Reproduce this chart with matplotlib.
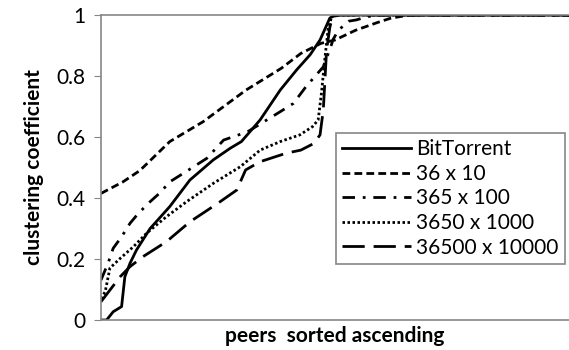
import matplotlib.pyplot as plt

# x = rank of peer (sorted ascending), scaled 0..1000
bt_x = [0, 12, 26, 44, 51, 62, 76, 105, 147, 190, 240, 276, 300, 340, 383, 418, 447, 468, 489, 500, 1000]
bt_y = [0, 0, 0.027, 0.044, 0.142, 0.186, 0.23, 0.3, 0.372, 0.459, 0.525, 0.563, 0.585, 0.656, 0.754, 0.82, 0.87, 0.918, 0.99, 1, 1]

s36_x = [0, 47, 83, 147, 218, 310, 385, 427, 470, 500, 544, 590, 620, 660, 1000]
s36_y = [0.415, 0.453, 0.49, 0.585, 0.65, 0.754, 0.825, 0.874, 0.907, 0.918, 0.95, 0.975, 0.99, 1, 1]

s365_x = [0, 16, 26, 44, 62, 80, 105, 126, 147, 176, 226, 262, 313, 383, 411, 438, 475, 491, 496, 507, 530, 546, 570, 600, 1000]
s365_y = [0.131, 0.19, 0.235, 0.273, 0.317, 0.35, 0.388, 0.417, 0.453, 0.481, 0.53, 0.59, 0.617, 0.683, 0.71, 0.765, 0.83, 0.896, 0.92, 0.95, 0.98, 0.984, 0.995, 1, 1]

s3650_x = [0, 9, 19, 41, 69, 97, 140, 183, 240, 298, 340, 383, 425, 452, 464, 471, 478, 485, 492, 500, 520, 1000]
s3650_y = [0.07, 0.093, 0.17, 0.202, 0.24, 0.284, 0.339, 0.388, 0.448, 0.503, 0.557, 0.585, 0.607, 0.634, 0.656, 0.743, 0.852, 0.95, 0.99, 1, 1, 1]

s36500_x = [0, 41, 62, 90, 140, 190, 250, 290, 309, 340, 396, 427, 455, 468, 475, 482, 489, 495, 510, 1000]
s36500_y = [0.06, 0.142, 0.175, 0.208, 0.257, 0.322, 0.383, 0.426, 0.492, 0.519, 0.547, 0.557, 0.579, 0.607, 0.689, 0.885, 0.96, 0.995, 1, 1]

labels = ["BitTorrent", "36 x 10", "365 x 100", "3650 x 1000", "36500 x 10000"]

plt.rcParams['font.family'] = ['Lato', 'DejaVu Sans']

fig = plt.figure(figsize=(5.69, 3.5), dpi=100)
ax = fig.add_axes([101 / 569, 30 / 350, 468 / 569, 305 / 350])

lw = 2.0
ax.plot(bt_x, bt_y, color="k", lw=lw, linestyle="-", label=labels[0])
ax.plot(s36_x, s36_y, color="k", lw=lw, linestyle=(0, (2.8, 1.5)), label=labels[1])
ax.plot(s365_x, s365_y, color="k", lw=lw, linestyle=(0, (4.5, 2.8, 1, 2.8)), label=labels[2])
ax.plot(s3650_x, s3650_y, color="k", lw=lw, linestyle=(0, (0.9, 0.9)), label=labels[3])
ax.plot(s36500_x, s36500_y, color="k", lw=lw, linestyle=(0, (8, 3.2)), label=labels[4])

ax.set_xlim(0, 1000)
ax.set_ylim(0, 1)
ax.set_xticks([])
ax.set_yticks([0, 0.2, 0.4, 0.6, 0.8, 1])
ax.set_yticklabels(["0", "0.2", "0.4", "0.6", "0.8", "1"], fontsize=15)
ax.tick_params(axis="y", direction="out", length=5, color="#868686", pad=6)
for side in ["left", "bottom", "top"]:
    ax.spines[side].set_color("#868686")
    ax.spines[side].set_linewidth(1.2)
ax.spines["right"].set_visible(False)

ax.set_ylabel("clustering coefficient", fontsize=15, fontweight="bold", labelpad=9)
ax.set_xlabel("peers  sorted ascending", fontsize=15, fontweight="bold", labelpad=4)

leg = ax.legend(loc="upper left", bbox_to_anchor=((336 - 101) / 468, (320 - 133) / 305),
                fontsize=15, handlelength=3.3, handletextpad=0.25, borderpad=0.3,
                labelspacing=0.22, fancybox=False, framealpha=1, borderaxespad=0)
leg.get_frame().set_edgecolor("#868686")
leg.get_frame().set_linewidth(1.2)

fig.savefig("out.png", dpi=100)
